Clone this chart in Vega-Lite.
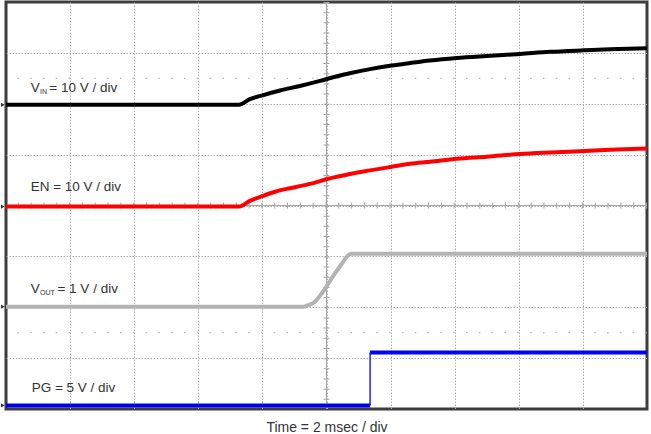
{
  "$schema": "https://vega.github.io/schema/vega-lite/v6.json",
  "width": 641,
  "height": 407,
  "autosize": "none",
  "padding": {"left": 6, "top": 2, "right": 4, "bottom": 25},
  "background": "white",
  "config": {"view": {"stroke": "#3d3d3d", "strokeWidth": 3}, "font": "Liberation Sans"},
  "datasets": {
    "traces": [
      {"sig": "VIN", "t": 0, "v": 5.98}, {"sig": "VIN", "t": 7.27, "v": 5.98}, {"sig": "VIN", "t": 7.61, "v": 6.09},
      {"sig": "VIN", "t": 8.03, "v": 6.17}, {"sig": "VIN", "t": 8.55, "v": 6.26}, {"sig": "VIN", "t": 9.17, "v": 6.35},
      {"sig": "VIN", "t": 9.8, "v": 6.45}, {"sig": "VIN", "t": 10.21, "v": 6.52}, {"sig": "VIN", "t": 10.73, "v": 6.6},
      {"sig": "VIN", "t": 11.36, "v": 6.68}, {"sig": "VIN", "t": 12.03, "v": 6.75}, {"sig": "VIN", "t": 12.61, "v": 6.8},
      {"sig": "VIN", "t": 13.23, "v": 6.85}, {"sig": "VIN", "t": 14.06, "v": 6.9}, {"sig": "VIN", "t": 15.0, "v": 6.94},
      {"sig": "VIN", "t": 16.04, "v": 6.98}, {"sig": "VIN", "t": 16.97, "v": 7.02}, {"sig": "VIN", "t": 18.04, "v": 7.05},
      {"sig": "VIN", "t": 18.85, "v": 7.07}, {"sig": "VIN", "t": 20, "v": 7.09},
      {"sig": "EN", "t": 0, "v": 3.98}, {"sig": "EN", "t": 7.27, "v": 3.98}, {"sig": "EN", "t": 7.61, "v": 4.09},
      {"sig": "EN", "t": 8.02, "v": 4.19}, {"sig": "EN", "t": 8.39, "v": 4.27}, {"sig": "EN", "t": 8.86, "v": 4.34},
      {"sig": "EN", "t": 9.24, "v": 4.39}, {"sig": "EN", "t": 9.64, "v": 4.45}, {"sig": "EN", "t": 10.02, "v": 4.52},
      {"sig": "EN", "t": 10.36, "v": 4.57}, {"sig": "EN", "t": 10.73, "v": 4.62}, {"sig": "EN", "t": 11.36, "v": 4.69},
      {"sig": "EN", "t": 12.03, "v": 4.76}, {"sig": "EN", "t": 12.61, "v": 4.82}, {"sig": "EN", "t": 13.23, "v": 4.86},
      {"sig": "EN", "t": 14.06, "v": 4.92}, {"sig": "EN", "t": 15.0, "v": 4.96}, {"sig": "EN", "t": 16.04, "v": 5.01},
      {"sig": "EN", "t": 16.97, "v": 5.04}, {"sig": "EN", "t": 18.07, "v": 5.07}, {"sig": "EN", "t": 19.05, "v": 5.1},
      {"sig": "EN", "t": 20, "v": 5.12},
      {"sig": "VOUT", "t": 0, "v": 2.01}, {"sig": "VOUT", "t": 9.28, "v": 2.01}, {"sig": "VOUT", "t": 9.43, "v": 2.04},
      {"sig": "VOUT", "t": 9.64, "v": 2.11}, {"sig": "VOUT", "t": 9.85, "v": 2.27}, {"sig": "VOUT", "t": 10.06, "v": 2.47},
      {"sig": "VOUT", "t": 10.27, "v": 2.67}, {"sig": "VOUT", "t": 10.47, "v": 2.85}, {"sig": "VOUT", "t": 10.63, "v": 2.99},
      {"sig": "VOUT", "t": 10.76, "v": 3.05}, {"sig": "VOUT", "t": 20, "v": 3.05}
    ],
    "pg": [
      {"seg": "low", "t": 0, "v": 0.07}, {"seg": "low", "t": 11.36, "v": 0.07},
      {"seg": "high", "t": 11.36, "v": 1.11}, {"seg": "high", "t": 20, "v": 1.11}
    ],
    "pgEdge": [{"t": 11.36, "v": 0.07, "v2": 1.11}],
    "labels": [
      {"sig": "VIN", "t": 0.77, "v": 6.225, "main": "V", "sub": "IN", "rest": "= 10 V / div"},
      {"sig": "EN", "t": 0.77, "v": 4.285, "main": "EN = 10 V / div"},
      {"sig": "VOUT", "t": 0.77, "v": 2.28, "main": "V", "sub": "OUT", "rest": "= 1 V / div"},
      {"sig": "PG", "t": 0.8, "v": 0.34, "main": "PG = 5 V / div"}
    ],
    "grounds": [
      {"t": -0.1, "v": 5.98}, {"t": -0.1, "v": 3.98}, {"t": -0.1, "v": 2.01}, {"t": -0.1, "v": 0.07}
    ],
    "rows": [{"v": 1.5}, {"v": 6.5}],
    "centerT": [{"t": 10}],
    "centerV": [{"v": 4}]
  },
  "layer": [
    {
      "data": {"name": "traces"},
      "mark": {"type": "point", "opacity": 0},
      "encoding": {
        "x": {"field": "t", "type": "quantitative", "scale": {"domain": [0, 20], "nice": false, "zero": false},
          "axis": {"values": [2, 4, 6, 8, 10, 12, 14, 16, 18], "grid": true, "gridColor": "#b0b0b0", "gridDash": [1.5, 1.5], "gridWidth": 1,
            "labels": false, "ticks": false, "domain": false, "title": "Time = 2 msec / div",
            "titleFont": "Liberation Sans", "titleFontSize": 14, "titleFontWeight": "normal", "titleColor": "#333333", "titlePadding": 11}},
        "y": {"field": "v", "type": "quantitative", "scale": {"domain": [0, 8], "nice": false, "zero": false},
          "axis": {"values": [1, 2, 3, 4, 5, 6, 7], "grid": true, "gridColor": "#b0b0b0", "gridDash": [1.5, 1.5], "gridWidth": 1,
            "labels": false, "ticks": false, "domain": false, "title": null}}
      }
    },
    {
      "data": {"name": "rows"},
      "mark": {"type": "rule", "color": "#a8a8a8", "strokeWidth": 1, "strokeDash": [1.5, 11.32]},
      "encoding": {"y": {"field": "v", "type": "quantitative"}}
    },
    {
      "data": {"name": "centerT"},
      "mark": {"type": "rule", "color": "#a6a6a6", "strokeWidth": 1},
      "encoding": {"x": {"field": "t", "type": "quantitative"}}
    },
    {
      "data": {"name": "centerT"},
      "mark": {"type": "rule", "color": "#a6a6a6", "strokeWidth": 6, "strokeDash": [1, 9.175]},
      "encoding": {"x": {"field": "t", "type": "quantitative"}}
    },
    {
      "data": {"name": "centerV"},
      "mark": {"type": "rule", "color": "#a6a6a6", "strokeWidth": 1},
      "encoding": {"y": {"field": "v", "type": "quantitative"}}
    },
    {
      "data": {"name": "centerV"},
      "mark": {"type": "rule", "color": "#a6a6a6", "strokeWidth": 6, "strokeDash": [1, 11.82]},
      "encoding": {"y": {"field": "v", "type": "quantitative"}}
    },
    {
      "data": {"name": "traces"},
      "mark": {"type": "line", "strokeWidth": 4, "interpolate": "monotone"},
      "encoding": {
        "x": {"field": "t", "type": "quantitative"},
        "y": {"field": "v", "type": "quantitative"},
        "color": {"field": "sig", "type": "nominal", "legend": null,
          "scale": {"domain": ["VIN", "EN", "VOUT"], "range": ["#000000", "#ff0000", "#b3b3b3"]}}
      }
    },
    {
      "data": {"name": "pg"},
      "mark": {"type": "line", "strokeWidth": 4, "color": "#0000f0"},
      "encoding": {
        "x": {"field": "t", "type": "quantitative"},
        "y": {"field": "v", "type": "quantitative"},
        "detail": {"field": "seg", "type": "nominal"}
      }
    },
    {
      "data": {"name": "pgEdge"},
      "mark": {"type": "rule", "strokeWidth": 1.3, "color": "#0000f0"},
      "encoding": {
        "x": {"field": "t", "type": "quantitative"},
        "y": {"field": "v", "type": "quantitative"},
        "y2": {"field": "v2"}
      }
    },
    {
      "data": {"name": "labels"},
      "mark": {"type": "text", "align": "left", "baseline": "alphabetic", "fontSize": 13.5, "color": "#333333", "font": "Liberation Sans"},
      "encoding": {
        "x": {"field": "t", "type": "quantitative"},
        "y": {"field": "v", "type": "quantitative"},
        "text": {"field": "main", "type": "nominal"}
      }
    },
    {
      "data": {"name": "labels"},
      "transform": [{"filter": "isValid(datum.sub)"}],
      "mark": {"type": "text", "align": "left", "baseline": "alphabetic", "fontSize": 7, "dx": 9.3, "dy": 2, "color": "#333333", "font": "Liberation Sans"},
      "encoding": {
        "x": {"field": "t", "type": "quantitative"},
        "y": {"field": "v", "type": "quantitative"},
        "text": {"field": "sub", "type": "nominal"}
      }
    },
    {
      "data": {"name": "labels"},
      "transform": [{"filter": "datum.sig == 'VIN'"}],
      "mark": {"type": "text", "align": "left", "baseline": "alphabetic", "fontSize": 13.5, "dx": 18.6, "color": "#333333", "font": "Liberation Sans"},
      "encoding": {
        "x": {"field": "t", "type": "quantitative"},
        "y": {"field": "v", "type": "quantitative"},
        "text": {"field": "rest", "type": "nominal"}
      }
    },
    {
      "data": {"name": "labels"},
      "transform": [{"filter": "datum.sig == 'VOUT'"}],
      "mark": {"type": "text", "align": "left", "baseline": "alphabetic", "fontSize": 13.5, "dx": 26.8, "color": "#333333", "font": "Liberation Sans"},
      "encoding": {
        "x": {"field": "t", "type": "quantitative"},
        "y": {"field": "v", "type": "quantitative"},
        "text": {"field": "rest", "type": "nominal"}
      }
    },
    {
      "data": {"name": "grounds"},
      "mark": {"type": "point", "shape": "triangle-right", "filled": true, "size": 18, "color": "#333333", "opacity": 1},
      "encoding": {
        "x": {"field": "t", "type": "quantitative"},
        "y": {"field": "v", "type": "quantitative"}
      }
    }
  ]
}
